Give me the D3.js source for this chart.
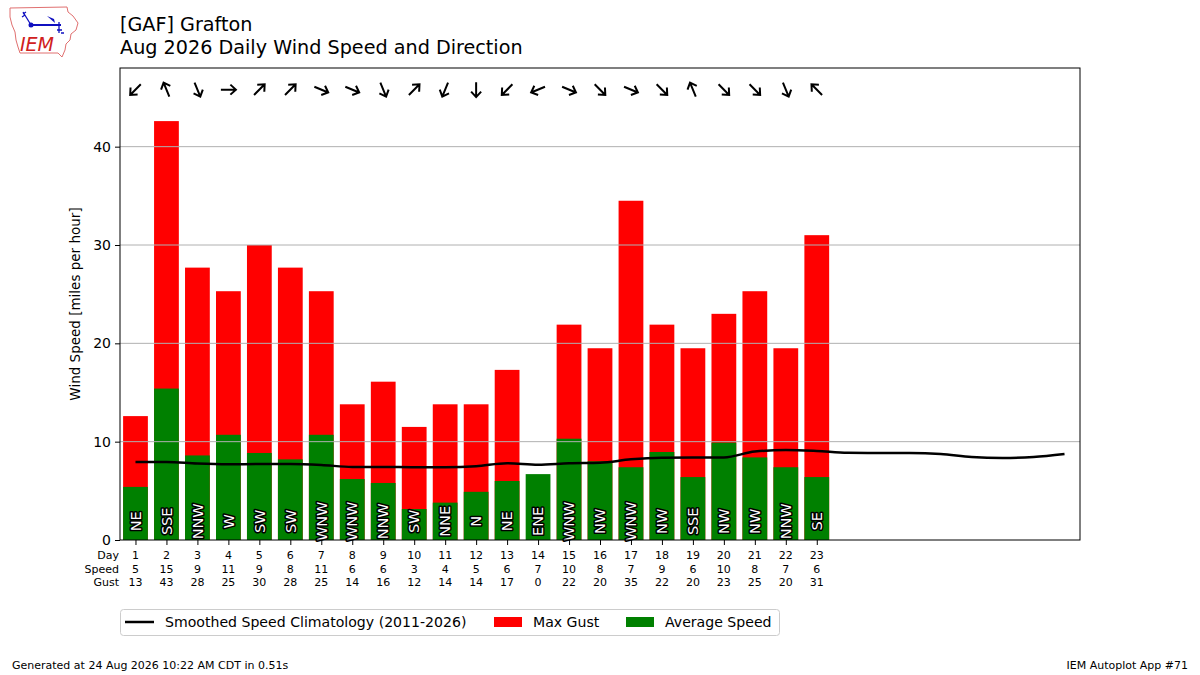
<!DOCTYPE html>
<html>
<head>
<meta charset="utf-8">
<script src="https://cdn.jsdelivr.net/npm/d3@7"></script>
<style>
    body { margin: 0; background: #fff; }
    text { font-family: "DejaVu Sans", sans-serif; }
</style>
</head>
<body>
<div id="wrapper"></div>
<script>
// data
const days = [1, 2, 3, 4, 5, 6, 7, 8, 9, 10, 11, 12, 13, 14, 15, 16, 17, 18, 19, 20, 21, 22, 23]
const avgSpeed = [5.4, 15.4, 8.6, 10.7, 8.85, 8.2, 10.7, 6.2, 5.8, 3.15, 3.8, 4.9, 6.0, 6.7, 10.3, 8.0, 7.4, 8.95, 6.4, 9.9, 8.4, 7.4, 6.4]
const maxGust = [12.6, 42.6, 27.7, 25.3, 30.0, 27.7, 25.3, 13.8, 16.1, 11.5, 13.8, 13.8, 17.3, 0, 21.9, 19.5, 34.5, 21.9, 19.5, 23.0, 25.3, 19.5, 31.0]
const directions = ["NE", "SSE", "NNW", "W", "SW", "SW", "WNW", "WNW", "NNW", "SW", "NNE", "N", "NE", "ENE", "WNW", "NW", "WNW", "NW", "SSE", "NW", "NW", "NNW", "SE"]
const climoDays = d3.range(1, 32)
const climoSpeed = [7.93, 7.93, 7.77, 7.7, 7.73, 7.73, 7.63, 7.43, 7.43, 7.4, 7.4, 7.5, 7.8, 7.65, 7.8, 7.86, 8.2, 8.37, 8.4, 8.4, 9.0, 9.15, 9.05, 8.87, 8.85, 8.85, 8.75, 8.44, 8.34, 8.44, 8.75]
const yTicks = [0, 10, 20, 30, 40]
const compass = ["N", "NNE", "NE", "ENE", "E", "ESE", "SE", "SSE", "S", "SSW", "SW", "WSW", "W", "WNW", "NW", "NNW"]

const dims = {
    width: 1200,
    height: 675,
    margin: { top: 68, right: 120, bottom: 135, left: 120 },
}
dims.boundedWidth = dims.width - dims.margin.left - dims.margin.right
dims.boundedHeight = dims.height - dims.margin.top - dims.margin.bottom

const svg = d3.select("#wrapper")
    .append("svg")
    .attr("width", dims.width)
    .attr("height", dims.height)

const bounds = svg.append("g")
    .attr("transform", `translate(${dims.margin.left}, ${dims.margin.top})`)

const xScale = d3.scaleLinear()
    .domain([0.5, 31.5])
    .range([0, dims.boundedWidth])
const yScale = d3.scaleLinear()
    .domain([0, 48])
    .range([dims.boundedHeight, 0])

const barW = xScale(1.4) - xScale(0.6)
const rows = days.map((d, i) => ({ day: d, speed: avgSpeed[i], gust: maxGust[i], dir: directions[i] }))

// gust bars, then average speed on top
bounds.append("g").selectAll("rect")
    .data(rows)
    .join("rect")
    .attr("x", d => xScale(d.day) - barW / 2)
    .attr("y", d => yScale(d.gust))
    .attr("width", barW)
    .attr("height", d => yScale(0) - yScale(d.gust))
    .attr("fill", "#ff0000")

bounds.append("g").selectAll("rect")
    .data(rows)
    .join("rect")
    .attr("x", d => xScale(d.day) - barW / 2)
    .attr("y", d => yScale(d.speed))
    .attr("width", barW)
    .attr("height", d => yScale(0) - yScale(d.speed))
    .attr("fill", "#008000")

// grid on top of bars
bounds.append("g").selectAll("line")
    .data(yTicks.slice(1))
    .join("line")
    .attr("x1", 0)
    .attr("x2", dims.boundedWidth)
    .attr("y1", d => yScale(d))
    .attr("y2", d => yScale(d))
    .attr("stroke", "#b0b0b0")
    .attr("stroke-width", 1)

// direction labels inside bars
bounds.append("g").selectAll("text")
    .data(rows)
    .join("text")
    .attr("transform", d => `translate(${xScale(d.day)}, ${yScale(1.9)}) rotate(-90)`)
    .attr("text-anchor", "middle")
    .attr("dy", "0.36em")
    .attr("font-size", 14.5)
    .attr("fill", "white")
    .attr("stroke", "black")
    .attr("stroke-width", 3)
    .attr("stroke-linejoin", "round")
    .attr("paint-order", "stroke")
    .text(d => d.dir)

// climatology
const line = d3.line()
    .x((d, i) => xScale(climoDays[i]))
    .y(d => yScale(d))
    .curve(d3.curveMonotoneX)
bounds.append("path")
    .datum(climoSpeed)
    .attr("d", line)
    .attr("fill", "none")
    .attr("stroke", "black")
    .attr("stroke-width", 2.5)

// wind arrows (pointing where the wind blows to)
const arrowY = yScale(45.8)
const arrows = bounds.append("g").selectAll("g")
    .data(rows)
    .join("g")
    .attr("transform", d => {
        const deg = compass.indexOf(d.dir) * 22.5 + 180
        return `translate(${xScale(d.day)}, ${arrowY}) rotate(${deg - 90})`
    })
arrows.append("path")
    .attr("d", "M-7.5,0 L7.5,0 M2,-5 L7.5,0 L2,5")
    .attr("fill", "none")
    .attr("stroke", "black")
    .attr("stroke-width", 2)

// frame
bounds.append("rect")
    .attr("width", dims.boundedWidth)
    .attr("height", dims.boundedHeight)
    .attr("fill", "none")
    .attr("stroke", "black")
    .attr("stroke-width", 1)

// y axis
const yAxis = bounds.append("g")
    .call(d3.axisLeft(yScale).tickValues(yTicks).tickSize(5).tickPadding(4))
yAxis.select(".domain").remove()
yAxis.selectAll("text").attr("font-size", 14).attr("font-family", "DejaVu Sans").attr("fill", "black")

bounds.append("text")
    .attr("transform", `translate(-40, ${dims.boundedHeight / 2}) rotate(-90)`)
    .attr("text-anchor", "middle")
    .attr("font-size", 13.5)
    .text("Wind Speed [miles per hour]")

// x ticks + table
const xAxis = bounds.append("g")
    .attr("transform", `translate(0, ${dims.boundedHeight})`)
    .call(d3.axisBottom(xScale).tickValues(days).tickSize(5).tickFormat(""))
xAxis.select(".domain").remove()

const table = [
    { label: "Day", values: days.map(String) },
    { label: "Speed", values: avgSpeed.map(v => String(Math.round(v))) },
    { label: "Gust", values: maxGust.map(v => String(Math.round(v))) },
]
table.forEach((row, r) => {
    const ty = dims.boundedHeight + 19 + r * 13.5
    bounds.append("text")
        .attr("x", -1)
        .attr("y", ty)
        .attr("text-anchor", "end")
        .attr("font-size", 11)
        .text(row.label)
    bounds.append("g").selectAll("text")
        .data(row.values)
        .join("text")
        .attr("x", (d, i) => xScale(days[i]))
        .attr("y", ty)
        .attr("text-anchor", "middle")
        .attr("font-size", 11)
        .text(d => d)
})

// legend
const legend = svg.append("g").attr("transform", "translate(120, 609)")
legend.append("rect")
    .attr("x", 0.5).attr("y", 0.5)
    .attr("width", 659).attr("height", 26)
    .attr("rx", 3)
    .attr("fill", "white")
    .attr("stroke", "#cccccc")
legend.append("line")
    .attr("x1", 5).attr("x2", 34).attr("y1", 13).attr("y2", 13)
    .attr("stroke", "black").attr("stroke-width", 2.5)
legend.append("text").attr("x", 45).attr("y", 18).attr("font-size", 14.1)
    .text("Smoothed Speed Climatology (2011-2026)")
legend.append("rect").attr("x", 374).attr("y", 8).attr("width", 28).attr("height", 10).attr("fill", "#ff0000")
legend.append("text").attr("x", 413).attr("y", 18).attr("font-size", 14.1).text("Max Gust")
legend.append("rect").attr("x", 506).attr("y", 8).attr("width", 28).attr("height", 10).attr("fill", "#008000")
legend.append("text").attr("x", 545).attr("y", 18).attr("font-size", 14.1).text("Average Speed")

// titles
svg.append("text").attr("x", 120).attr("y", 31).attr("font-size", 19.2).text("[GAF] Grafton")
svg.append("text").attr("x", 120).attr("y", 54).attr("font-size", 19.2).text("Aug 2026 Daily Wind Speed and Direction")

// footer
svg.append("text").attr("x", 12).attr("y", 669).attr("font-size", 11)
    .text("Generated at 24 Aug 2026 10:22 AM CDT in 0.51s")
svg.append("text").attr("x", 1188).attr("y", 669).attr("font-size", 11).attr("text-anchor", "end")
    .text("IEM Autoplot App #71")

// IEM logo, roughly
const logo = svg.append("g")
logo.append("path")
    .attr("d", "M10,8 L67,7 L68,12 L73,16 L78,23 L76,30 L71,34 L70,40 L66,44 L65,50 L62,57 L58,53 L20,53 L18,47 L16,40 L15,32 L12,25 L10,17 Z")
    .attr("fill", "none")
    .attr("stroke", "#e07070")
    .attr("stroke-width", 1)
logo.append("line").attr("x1", 30).attr("x2", 61).attr("y1", 25).attr("y2", 25).attr("stroke", "#1010c0").attr("stroke-width", 2)
logo.append("circle").attr("cx", 31).attr("cy", 25).attr("r", 2.5).attr("fill", "#1010c0")
logo.append("path").attr("d", "M23,12 L31,25 M23,14 L26,12 M22,17 L25,15").attr("stroke", "#1010c0").attr("stroke-width", 1.3).attr("fill", "none")
logo.append("path").attr("d", "M47,16 L54,19 L55,23 Z").attr("fill", "#1010c0")
logo.append("path").attr("d", "M59,22 L59,33 M57,30 L62,30 M61,33 L64,33").attr("stroke", "#1010c0").attr("stroke-width", 1.3).attr("fill", "none")
logo.append("text").attr("x", 20).attr("y", 51).attr("font-size", 19).attr("font-style", "italic")
    .attr("font-family", "Liberation Serif, serif").attr("fill", "#d02020").text("IEM")
</script>
</body>
</html>
